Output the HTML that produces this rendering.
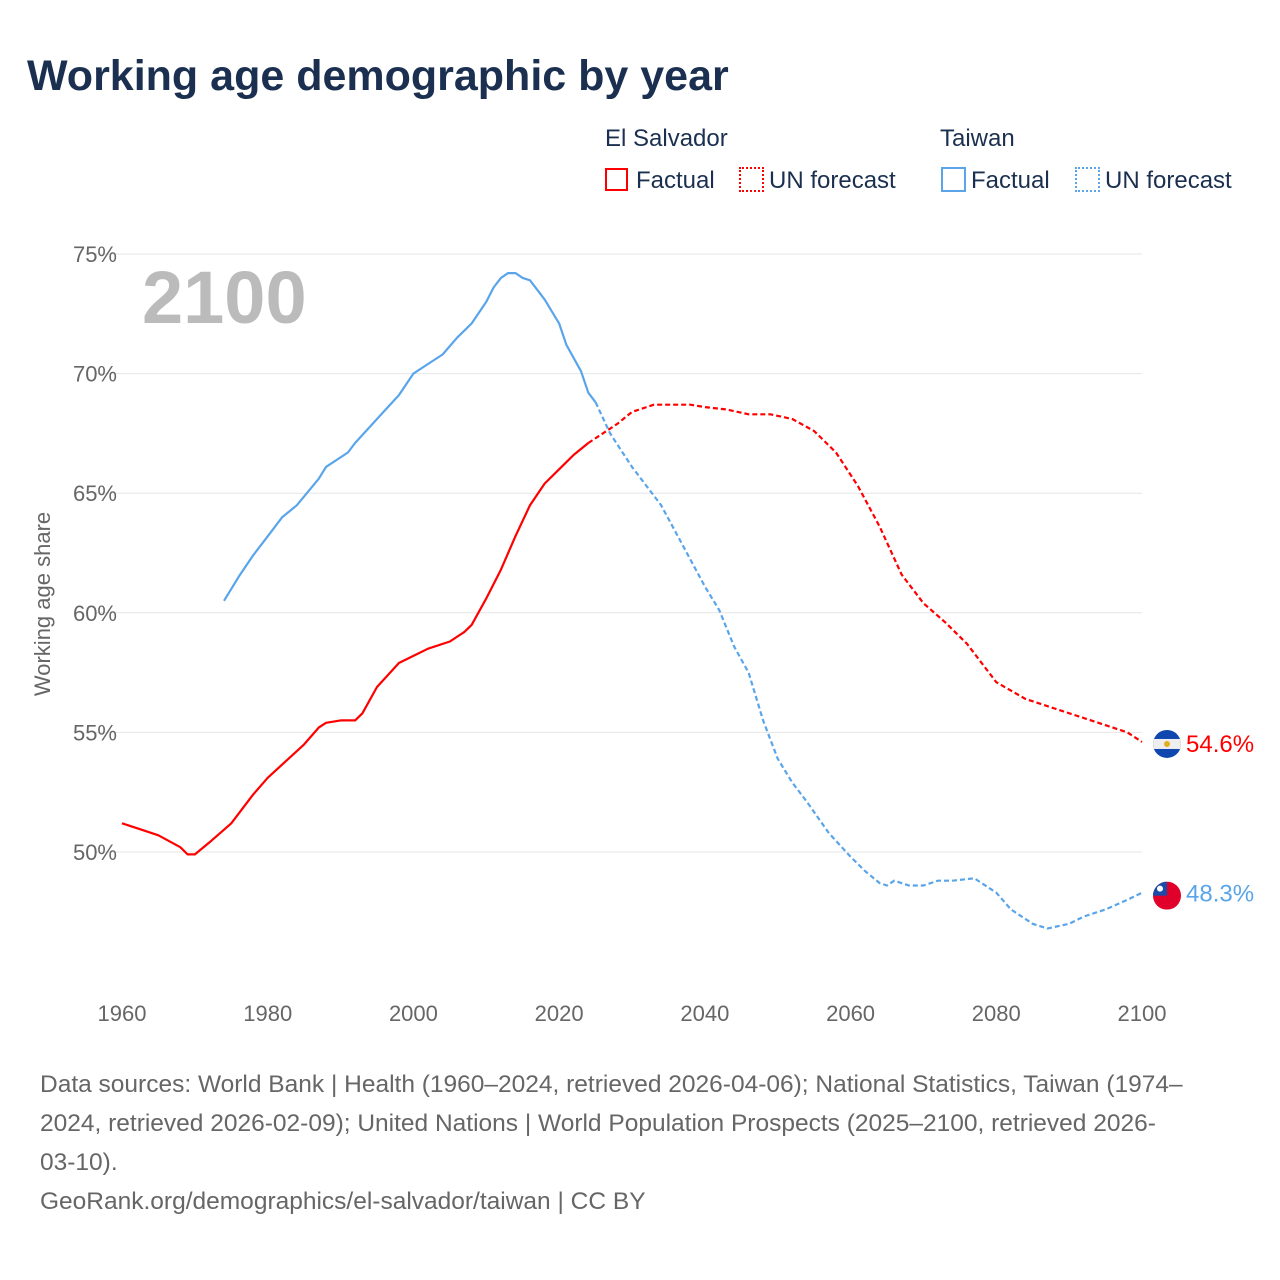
<!DOCTYPE html>
<html><head><meta charset="utf-8"><style>
body{margin:0;background:#fff;font-family:"Liberation Sans",sans-serif;}
#wrap{position:relative;width:1280px;height:1280px;overflow:hidden;}
.t{position:absolute;white-space:nowrap;}
</style></head><body>
<div id="wrap">
<div class="t" style="left:27px;top:52px;font-size:43px;font-weight:bold;color:#1b3050;">Working age demographic by year</div>
<div class="t" style="left:605px;top:125px;font-size:24px;color:#1b3050;">El Salvador</div>
<div class="t" style="left:940px;top:125px;font-size:24px;color:#1b3050;">Taiwan</div>
<div class="t" style="left:605px;top:167px;font-size:24px;color:#1b3050;"><span style="display:inline-block;width:23px;height:23px;border:2px solid #f00;box-sizing:border-box;vertical-align:-3px;margin-right:8px"></span>Factual</div>
<div class="t" style="left:739px;top:167px;font-size:24px;color:#1b3050;"><span style="display:inline-block;width:25px;height:25px;border:2px dotted #f00;box-sizing:border-box;vertical-align:-4px;margin-right:5px"></span>UN forecast</div>
<div class="t" style="left:941px;top:167px;font-size:24px;color:#1b3050;"><span style="display:inline-block;width:25px;height:25px;border:2px solid #5aa5ea;box-sizing:border-box;vertical-align:-4px;margin-right:5px"></span>Factual</div>
<div class="t" style="left:1075px;top:167px;font-size:24px;color:#1b3050;"><span style="display:inline-block;width:25px;height:25px;border:2px dotted #5aa5ea;box-sizing:border-box;vertical-align:-4px;margin-right:5px"></span>UN forecast</div>
<svg id="chart" width="1280" height="1280" style="position:absolute;left:0;top:0" font-family="Liberation Sans, sans-serif"></svg>
<div class="t" style="left:40px;top:1065px;font-size:24.5px;line-height:39px;color:#666;">Data sources: World Bank | Health (1960–2024, retrieved 2026-04-06); National Statistics, Taiwan (1974–<br>2024, retrieved 2026-02-09); United Nations | World Population Prospects (2025–2100, retrieved 2026-<br>03-10).<br>GeoRank.org/demographics/el-salvador/taiwan | CC BY</div>
</div>
<script>
const svYearsF=[1960,1962,1965,1968,1969,1970,1972,1975,1978,1980,1985,1987,1988,1990,1992,1993,1995,1998,2000,2002,2005,2007,2008,2010,2012,2014,2016,2018,2020,2022,2024];
const svValsF=[51.2,51.0,50.7,50.2,49.9,49.9,50.4,51.2,52.4,53.1,54.5,55.2,55.4,55.5,55.5,55.8,56.9,57.9,58.2,58.5,58.8,59.2,59.5,60.6,61.8,63.2,64.5,65.4,66.0,66.6,67.1];
const svYearsP=[2024,2025,2028,2030,2033,2038,2040,2043,2046,2049,2052,2055,2058,2061,2064,2067,2070,2073,2076,2080,2084,2088,2092,2096,2098,2100];
const svValsP=[67.1,67.3,67.9,68.4,68.7,68.7,68.6,68.5,68.3,68.3,68.1,67.6,66.7,65.3,63.6,61.6,60.4,59.6,58.7,57.1,56.4,56.0,55.6,55.2,55.0,54.6];
const twYearsF=[1974,1976,1978,1980,1982,1984,1987,1988,1991,1992,1995,1998,2000,2002,2004,2006,2008,2010,2011,2012,2013,2014,2015,2016,2018,2020,2021,2023,2024,2025];
const twValsF=[60.5,61.5,62.4,63.2,64.0,64.5,65.6,66.1,66.7,67.1,68.1,69.1,70.0,70.4,70.8,71.5,72.1,73.0,73.6,74.0,74.2,74.2,74.0,73.9,73.1,72.1,71.2,70.1,69.2,68.8];
const twYearsP=[2025,2027,2030,2034,2037,2040,2042,2044,2046,2048,2050,2052,2054,2057,2060,2062,2064,2065,2066,2068,2070,2072,2074,2077,2080,2082,2085,2087,2090,2092,2095,2098,2100];
const twValsP=[68.8,67.5,66.1,64.5,62.8,61.1,60.1,58.6,57.5,55.5,53.9,52.9,52.1,50.8,49.8,49.2,48.7,48.6,48.8,48.6,48.6,48.8,48.8,48.9,48.3,47.6,47.0,46.8,47.0,47.3,47.6,48.0,48.3];
const yTicks=[50,55,60,65,70,75];
const xTicks=[1960,1980,2000,2020,2040,2060,2080,2100];
const NS='http://www.w3.org/2000/svg';
const svg=document.getElementById('chart');
const X=y=>122+(y-1960)*1020/140;
const Y=v=>852-(v-50)*598/25;
function mk(t,a){const e=document.createElementNS(NS,t);for(const k in a)e.setAttribute(k,a[k]);svg.appendChild(e);return e;}
yTicks.forEach(v=>{
 const l=mk('line',{x1:95,x2:1142,y1:Y(v),y2:Y(v),stroke:'#e6e6e6','stroke-width':1});
 
 
 const t=mk('text',{x:117,y:Y(v)+8,'text-anchor':'end','font-size':22,fill:'#666'});
 t.textContent=v+'%';
 
 
});
xTicks.forEach(v=>{
 const t=mk('text',{x:X(v),y:1021,'text-anchor':'middle','font-size':22,fill:'#666'});
 t.textContent=v;
 
 
});
const yt=mk('text',{transform:'translate(50,604) rotate(-90)','text-anchor':'middle','font-size':22,fill:'#666'});
yt.textContent='Working age share';


const yr=mk('text',{x:142,y:323,'font-size':74,'font-weight':'bold',fill:'#bbb'});
yr.textContent='2100';


function line(xs,vs,col,dash,name){
 const d=xs.map((x,i)=>(i?'L':'M')+X(x).toFixed(1)+','+Y(vs[i]).toFixed(1)).join('');
 const p=mk('path',{d:d,fill:'none',stroke:col,'stroke-width':2.2,'stroke-dasharray':dash?'5,3':'none','stroke-linejoin':'round'});
 
 
}
line(svYearsF,svValsF,'#ff0000',false,'line-el-salvador-factual');
line(svYearsP,svValsP,'#ff0000',true,'line-el-salvador-forecast');
line(twYearsF,twValsF,'#5aa5ea',false,'line-taiwan-factual');
line(twYearsP,twValsP,'#5aa5ea',true,'line-taiwan-forecast');
function flag(v,name,tw){
 const cx=1167,cy=Y(v)+(tw?3:2);
 const g=mk('g',{});
 
 
 const cp=mk('clipPath',{id:'c'+name});
 const c=document.createElementNS(NS,'circle');c.setAttribute('cx',cx);c.setAttribute('cy',cy);c.setAttribute('r',14);cp.appendChild(c);
 if(!tw){
  mk('rect',{x:cx-14,y:cy-14,width:28,height:28,fill:'#0f47af','clip-path':'url(#c'+name+')'});
  mk('rect',{x:cx-14,y:cy-5,width:28,height:10,fill:'#eee','clip-path':'url(#c'+name+')'});
  mk('circle',{cx:cx,cy:cy,r:3,fill:'#e0b020'});
 }else{
  mk('rect',{x:cx-14,y:cy-14,width:28,height:28,fill:'#e0002a','clip-path':'url(#c'+name+')'});
  mk('rect',{x:cx-14,y:cy-14,width:14,height:14,fill:'#1c4aa8','clip-path':'url(#c'+name+')'});
  mk('circle',{cx:cx-7,cy:cy-7,r:3,fill:'#fff'});
 }
}
flag(svValsP[svValsP.length-1],'flag-el-salvador',false);
flag(twValsP[twValsP.length-1],'flag-taiwan',true);
const l1=mk('text',{x:1186,y:Y(54.6)+10,'font-size':24,fill:'#ff0000'});
l1.textContent='54.6%';


const l2=mk('text',{x:1186,y:Y(48.3)+9,'font-size':24,fill:'#5aa5ea'});
l2.textContent='48.3%';


</script>
</body></html>
